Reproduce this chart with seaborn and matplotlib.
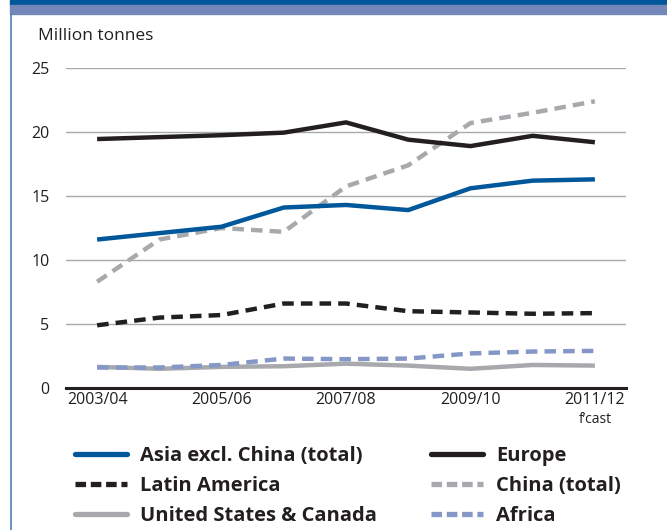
import matplotlib
matplotlib.use("Agg")
import pandas as pd
import seaborn as sns
import matplotlib.pyplot as plt
from matplotlib.patches import Rectangle
from matplotlib.lines import Line2D

# Season labels (x axis)
seasons = ["2003/04", "2004/05", "2005/06", "2006/07", "2007/08",
           "2008/09", "2009/10", "2010/11", "2011/12"]

# Values, million tonnes
asia = [11.6, 12.1, 12.6, 14.1, 14.3, 13.9, 15.6, 16.2, 16.3]
europe = [19.45, 19.6, 19.75, 19.95, 20.75, 19.4, 18.9, 19.7, 19.2]
latin = [4.9, 5.5, 5.7, 6.6, 6.6, 6.0, 5.9, 5.8, 5.85]
china = [8.3, 11.6, 12.5, 12.2, 15.75, 17.4, 20.7, 21.5, 22.4]
us_canada = [1.65, 1.5, 1.65, 1.7, 1.9, 1.75, 1.5, 1.8, 1.75]
africa = [1.6, 1.6, 1.8, 2.3, 2.25, 2.3, 2.7, 2.85, 2.9]

series = {
    "Asia excl. China (total)": asia,
    "Europe": europe,
    "Latin America": latin,
    "China (total)": china,
    "United States & Canada": us_canada,
    "Africa": africa,
}
colors = {
    "Asia excl. China (total)": "#00589b",
    "Europe": "#231f20",
    "Latin America": "#231f20",
    "China (total)": "#a7a9ac",
    "United States & Canada": "#a7a9ac",
    "Africa": "#8497c7",
}
dashed = {"Latin America", "China (total)", "Africa"}

rows = []
for name, vals in series.items():
    for i, v in enumerate(vals):
        rows.append({"idx": i, "season": seasons[i], "value": v, "series": name})
df = pd.DataFrame(rows)

sns.set_style("white")
plt.rcParams["font.family"] = ["Open Sans", "DejaVu Sans"]

fig = plt.figure(figsize=(6.67, 5.3), dpi=100)
ax = fig.add_axes([66 / 667, 142 / 530, 560 / 667, 320 / 530])

# draw order: greys first, then others on top
order = ["United States & Canada", "Africa", "Latin America",
         "China (total)", "Europe", "Asia excl. China (total)"]
for name in order:
    sub = df[df["series"] == name]
    sns.lineplot(data=sub, x="idx", y="value", ax=ax, color=colors[name],
                 linewidth=3.2, legend=False, sort=False)
    ln = ax.lines[-1]
    if name in dashed:
        ln.set_dashes([2.6, 1.6])
    ln.set_solid_capstyle("butt")

ax.set_xlim(-0.5, 8.5)
ax.set_ylim(0, 25)
ax.set_yticks([0, 5, 10, 15, 20, 25])
ax.set_xticks(range(len(seasons)))
xlabels = [s if i % 2 == 0 else "" for i, s in enumerate(seasons)]
ax.set_xticklabels(xlabels, fontsize=11.5, color="#231f20")
ax.tick_params(axis="x", direction="in", length=7, width=1.5,
               color="#231f20", pad=3)
ax.tick_params(axis="y", length=0, labelsize=11.5, labelcolor="#231f20", pad=12)
ax.set_xlabel("")
ax.set_ylabel("")
ax.grid(axis="y", color="#a7a9ac", linewidth=1.0)
ax.set_axisbelow(True)
for s in ["left", "right", "top"]:
    ax.spines[s].set_visible(False)
ax.spines["bottom"].set_color("#231f20")
ax.spines["bottom"].set_linewidth(2.2)

ax.text(8, -1.9, "f\u2019cast", ha="center", va="top", fontsize=10,
        color="#231f20")
fig.text(38 / 667, 1 - 36 / 530, "Million tonnes", fontsize=12.5,
         color="#231f20", va="center", ha="left")

# legend, two columns placed separately
def make_handle(name):
    h = Line2D([], [], color=colors[name], linewidth=3.8)
    if name in dashed:
        h.set_dashes([2.0, 0.9])
    h.set_solid_capstyle("round")
    return h

cols = [(["Asia excl. China (total)", "Latin America", "United States & Canada"], 75),
        (["Europe", "China (total)", "Africa"], 431)]
for names, x0 in cols:
    leg = fig.legend([make_handle(n) for n in names], names, loc="upper left",
                     bbox_to_anchor=(x0 / 667, 1 - 446 / 530), frameon=False,
                     prop={"weight": "bold", "size": 14.5}, handlelength=2.6,
                     handletextpad=0.65, labelspacing=0.5, borderpad=0,
                     borderaxespad=0, labelcolor="#231f20")

# frame decorations
fig.patches.append(Rectangle((10 / 667, 1 - 5 / 530), 1, 5 / 530,
                             transform=fig.transFigure, color="#00589b"))
fig.patches.append(Rectangle((10 / 667, 1 - 14 / 530), 1, 9 / 530,
                             transform=fig.transFigure, color="#7388b8"))
fig.add_artist(Line2D([10.5 / 667, 10.5 / 667], [0, 1 - 14 / 530],
                      transform=fig.transFigure, color="#4f7fb5",
                      linewidth=1.2))

fig.savefig("out.png", dpi=100)
